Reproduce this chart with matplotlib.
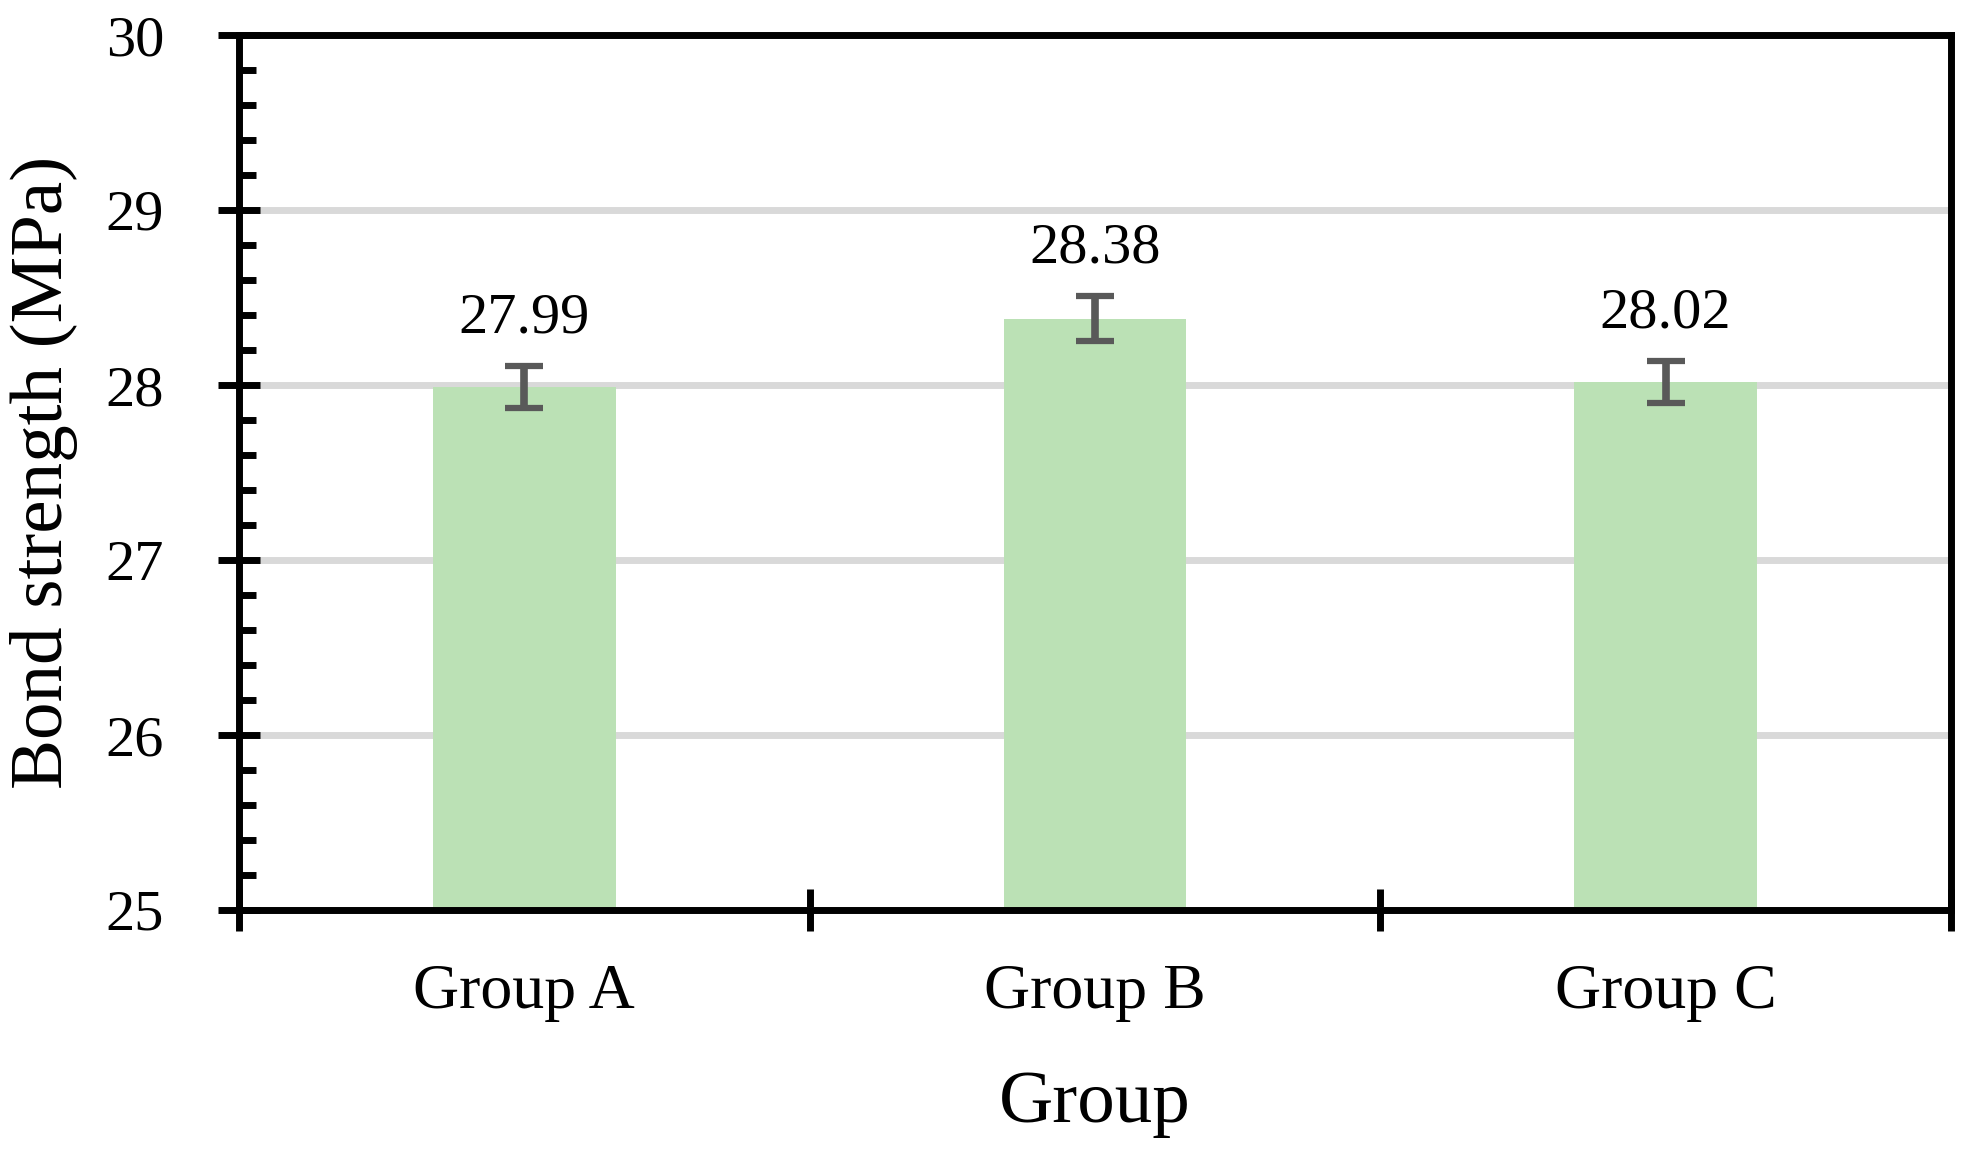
import matplotlib.pyplot as plt
import numpy as np
from matplotlib.ticker import MultipleLocator, FixedLocator, NullFormatter

# Data
groups = ['Group A', 'Group B', 'Group C']
strength = [27.99, 28.38, 28.02]
errors = [0.12, 0.13, 0.12]
value_labels = ['27.99', '28.38', '28.02']

plt.rcParams['font.family'] = ['Liberation Serif', 'DejaVu Serif']

bar_color = '#BBE1B5'
err_color = '#595959'
grid_color = '#D9D9D9'

fig = plt.figure(figsize=(19.7, 11.55), dpi=100)
ax = fig.add_axes([239 / 1970, 1 - 910 / 1155, (1951 - 239) / 1970, (910 - 35) / 1155])

x = np.arange(len(groups))
ax.bar(x, strength, width=0.32, color=bar_color, zorder=2)
ax.errorbar(x, strength, yerr=errors, fmt='none', ecolor=err_color,
            elinewidth=5.5, capsize=14, capthick=4.5, zorder=3)

for xi, v, e, lab in zip(x, strength, errors, value_labels):
    ax.annotate(lab, (xi, v + e), xytext=(0, 24), textcoords='offset points',
                ha='center', va='baseline', fontsize=42)

ax.set_ylim(25, 30)
ax.set_xlim(-0.5, len(groups) - 0.5)

# y axis: major every 1, minor every 0.2
ax.yaxis.set_major_locator(MultipleLocator(1))
ax.yaxis.set_minor_locator(MultipleLocator(0.2))
ax.tick_params(axis='y', which='major', direction='inout', length=30, width=5,
               labelsize=42, pad=39)
ax.tick_params(axis='y', which='minor', direction='in', length=12, width=5)

# x axis: boundary ticks as major, labels on the category centres
ax.xaxis.set_major_locator(FixedLocator(np.arange(-0.5, len(groups), 1.0)))
ax.xaxis.set_major_formatter(NullFormatter())
ax.xaxis.set_minor_locator(FixedLocator(x))
ax.set_xticks(x, groups, minor=True)
ax.tick_params(axis='x', which='major', direction='inout', length=30, width=5)
ax.tick_params(axis='x', which='minor', direction='in', length=12, width=5,
               labelsize=46, pad=39)

ax.yaxis.grid(True, which='major', color=grid_color, linewidth=5)
ax.set_axisbelow(True)

for side in ['left', 'right', 'top', 'bottom']:
    ax.spines[side].set_linewidth(5)
    ax.spines[side].set_color('black')

ax.set_xlabel('Group', fontsize=54, labelpad=35)
ax.set_ylabel('Bond strength (MPa)', fontsize=54, labelpad=20)

fig.savefig('out.png', dpi=100)
